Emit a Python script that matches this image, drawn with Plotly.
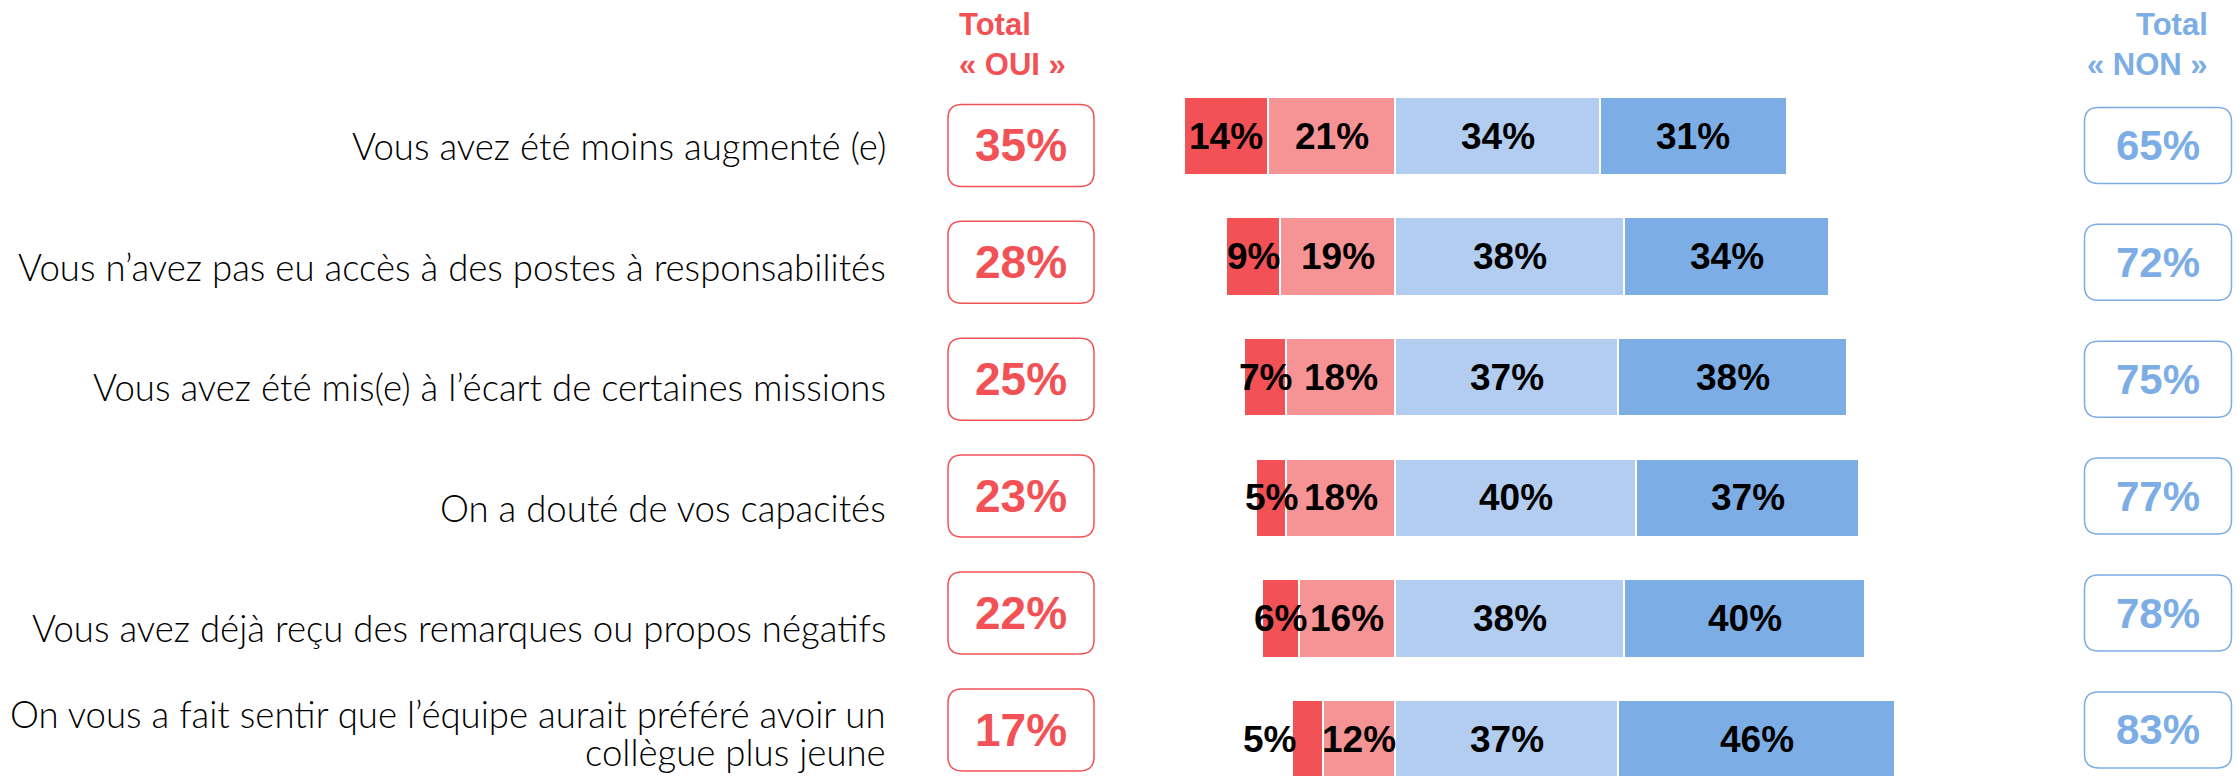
import plotly.graph_objects as go

# ---------------- data ----------------
categories = [
    "Vous avez été moins augmenté (e)",
    "Vous n’avez pas eu accès à des postes à responsabilités",
    "Vous avez été mis(e) à l’écart de certaines missions",
    "On a douté de vos capacités",
    "Vous avez déjà reçu des remarques ou propos négatifs",
    "On vous a fait sentir que l’équipe aurait préféré avoir un<br>collègue plus jeune",
]
oui_fort = [14, 9, 7, 5, 6, 5]        # dark red
oui_plutot = [21, 19, 18, 18, 16, 12]  # light red
non_plutot = [34, 38, 37, 40, 38, 37]  # light blue
non_fort = [31, 34, 38, 37, 40, 46]    # dark blue
header_oui = "Total<br>« OUI »"
header_non = "Total<br>« NON »"

# ---------------- style ----------------
W, H = 2239, 776
C_DR = "#F25155"
C_LR = "#F69394"
C_LB = "#B2CDF0"
C_DB = "#7DADE5"
C_OUI = "#F25155"
C_NON = "#7DADE5"
px_per_pct = 6.03
zero_px = 1395
row0_px = 136
row_step = 120.6
box_row0_px = 145.4
box_row_step = 116.9
bar_w = 0.65
label_font = "Lato, 'Noto Sans', sans-serif"
num_font = "'Liberation Sans', Arial, sans-serif"
outside_dark_label = [False, False, False, False, False, True]

n = len(categories)
rows = list(range(n))


def box_y(i):
    """vertical position (in row units) of the total boxes, which sit on their own grid"""
    return (box_row0_px + box_row_step * i - row0_px) / row_step


fig = go.Figure()
for vals, col, sign in [(oui_plutot, C_LR, -1), (oui_fort, C_DR, -1),
                        (non_plutot, C_LB, 1), (non_fort, C_DB, 1)]:
    fig.add_trace(go.Bar(
        y=rows, x=[sign * v for v in vals], orientation="h",
        width=bar_w, marker=dict(color=col, line=dict(color="white", width=2)),
        hoverinfo="skip", showlegend=False,
    ))

ann = []
lab_font = dict(family=num_font, size=37, color="black", weight="bold")


def a(**kw):
    base = dict(showarrow=False, xanchor="center", yanchor="middle")
    base.update(kw)
    ann.append(base)


for i in rows:
    lr, dr, lb, db = oui_plutot[i], oui_fort[i], non_plutot[i], non_fort[i]
    a(x=-lr / 2, y=i, text=f"{lr}%", font=lab_font, xref="x", yref="y")
    if outside_dark_label[i]:
        a(x=-(lr + dr), y=i, text=f"{dr}%", font=lab_font, xref="x", yref="y",
          xanchor="right", xshift=6)
    else:
        a(x=-(lr + dr / 2), y=i, text=f"{dr}%", font=lab_font, xref="x", yref="y")
    a(x=lb / 2, y=i, text=f"{lb}%", font=lab_font, xref="x", yref="y")
    a(x=lb + db / 2, y=i, text=f"{db}%", font=lab_font, xref="x", yref="y")
    # category label (one annotation per line)
    lines = categories[i].split("<br>")
    nl = len(lines)
    for k, line in enumerate(lines):
        shift = -10 if nl == 1 else (-(k - (nl - 1) / 2) * 38 + 6)
        a(x=888 / W, y=i, xref="paper", yref="y", xanchor="right", text=line,
          yshift=shift, font=dict(family=label_font, size=36.6, color="black", weight=300))
    # totals
    a(x=1021 / W, y=box_y(i), xref="paper", yref="y", text=f"{dr + lr}%",
      font=dict(family=num_font, size=46, color=C_OUI, weight="bold"))
    a(x=2158 / W, y=box_y(i), xref="paper", yref="y", text=f"{lb + db}%",
      font=dict(family=num_font, size=42, color=C_NON, weight="bold"))

# headers
hdr_lines_oui = header_oui.split("<br>")
hdr_lines_non = header_non.split("<br>")
for k, yy in enumerate([24, 64]):
    a(x=957 / W, y=1 - yy / H, xref="paper", yref="paper", xanchor="left",
      text=hdr_lines_oui[k], font=dict(family=num_font, size=31, color=C_OUI, weight="bold"))
    a(x=2210 / W, y=1 - yy / H, xref="paper", yref="paper", xanchor="right",
      text=hdr_lines_non[k], font=dict(family=num_font, size=31, color=C_NON, weight="bold"))


def rrect(w, h, r):
    p, q = w / 2, h / 2
    return (f"M {-p + r},{-q} L {p - r},{-q} Q {p},{-q} {p},{-q + r} "
            f"L {p},{q - r} Q {p},{q} {p - r},{q} L {-p + r},{q} Q {-p},{q} {-p},{q - r} "
            f"L {-p},{-q + r} Q {-p},{-q} {-p + r},{-q} Z")


shapes = []
for i in rows:
    shapes.append(dict(type="path", xref="paper", yref="y", xsizemode="pixel", ysizemode="pixel",
                       xanchor=1021 / W, yanchor=box_y(i), path=rrect(146, 82, 14),
                       line=dict(color=C_OUI, width=1.5)))
    shapes.append(dict(type="path", xref="paper", yref="y", xsizemode="pixel", ysizemode="pixel",
                       xanchor=2158 / W, yanchor=box_y(i), path=rrect(147, 76, 14),
                       line=dict(color=C_NON, width=1.5)))

x_left = -zero_px / px_per_pct
x_right = (W - zero_px) / px_per_pct
y_top = -row0_px / row_step
y_bot = (H - row0_px) / row_step

fig.update_layout(
    width=W, height=H, barmode="relative", bargap=0,
    margin=dict(l=0, r=0, t=0, b=0),
    paper_bgcolor="white", plot_bgcolor="white",
    xaxis=dict(range=[x_left, x_right], visible=False, fixedrange=True),
    yaxis=dict(range=[y_bot, y_top], visible=False, fixedrange=True),
    annotations=ann, shapes=shapes, showlegend=False,
)
fig.write_html("out.html", config={"displayModeBar": False},
               post_script="document.body.style.margin='0px';document.body.style.overflow='hidden';")
